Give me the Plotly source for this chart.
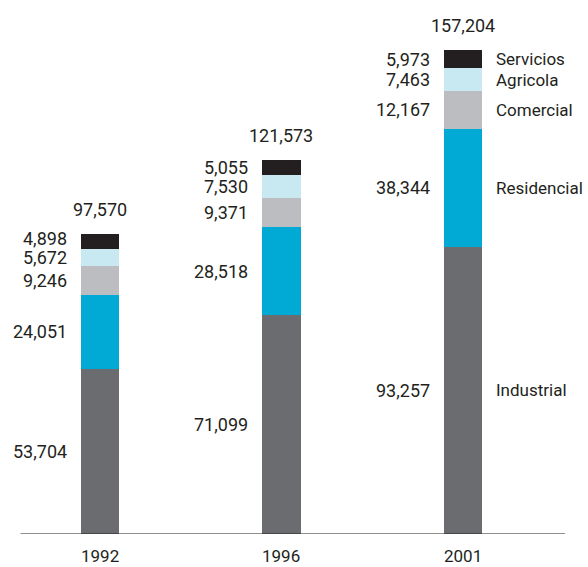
import plotly.graph_objects as go

# Electricity consumption by sector (stacked bottom to top)
years = ["1992", "1996", "2001"]
sectors = ["Industrial", "Residencial", "Comercial", "Agricola", "Servicios"]
industrial = [53704, 71099, 93257]
residencial = [24051, 28518, 38344]
comercial = [9246, 9371, 12167]
agricola = [5672, 7530, 7463]
servicios = [4898, 5055, 5973]
totals = [97570, 121573, 157204]

series = [industrial, residencial, comercial, agricola, servicios]
colors = ["#6b6c70", "#00aad4", "#bcbdc1", "#c8e8f2", "#231f20"]

TEXT = "#231f20"
FONT = "Roboto"
FS = 18

xs = list(range(len(years)))
BAR_W = 0.21
Y_MAX = 173400
PLOT_H = 534                      # plot area height in px
PX_PER_UNIT = PLOT_H / Y_MAX
MIN_GAP = 19 / PX_PER_UNIT        # minimum vertical spacing between labels


def label_positions(values):
    """Segment centres, nudged upward so stacked labels never collide."""
    pos, base = [], 0
    for v in values:
        pos.append(base + v / 2)
        base += v
    for j in range(1, len(pos)):
        if pos[j] - pos[j - 1] < MIN_GAP:
            pos[j] = pos[j - 1] + MIN_GAP
    return pos


fig = go.Figure()
for name, vals, col in zip(sectors, series, colors):
    fig.add_trace(go.Bar(
        x=xs, y=vals, name=name, marker=dict(color=col, line=dict(width=0)),
        width=BAR_W, hoverinfo="skip",
    ))

annotations = []
for i in xs:
    vals_i = [s[i] for s in series]
    # segment value labels to the left of each bar
    for v, y in zip(vals_i, label_positions(vals_i)):
        annotations.append(dict(
            x=i, y=y, xref="x", yref="y", text=f"{v:,}",
            showarrow=False, xanchor="right", yanchor="middle", xshift=-31,
            font=dict(family=FONT, size=FS, color=TEXT),
        ))
    # total above the bar
    annotations.append(dict(
        x=i, y=totals[i], xref="x", yref="y", text=f"{totals[i]:,}",
        showarrow=False, xanchor="center", yanchor="middle", yshift=24,
        font=dict(family=FONT, size=FS, color=TEXT),
    ))
    # year under the axis
    annotations.append(dict(
        x=i, y=0, xref="x", yref="y", text=years[i],
        showarrow=False, xanchor="center", yanchor="middle", yshift=-22,
        borderpad=0,
        font=dict(family=FONT, size=17, color=TEXT),
    ))

# sector names beside the last bar
last = xs[-1]
last_vals = [s[last] for s in series]
for name, y in zip(sectors, label_positions(last_vals)):
    annotations.append(dict(
        x=last, y=y, xref="x", yref="y", text=name,
        showarrow=False, xanchor="left", yanchor="middle", xshift=31,
        font=dict(family=FONT, size=17, color=TEXT),
    ))

# baseline axis with boundary ticks
tick_pos = [i - 0.438 for i in range(len(years) + 1)]
shapes = [dict(type="line", xref="x", yref="y", x0=tick_pos[0], x1=tick_pos[-1],
               y0=0, y1=0, line=dict(color=TEXT, width=1.2))]
for t in tick_pos:
    shapes.append(dict(type="line", xref="x", yref="y", ysizemode="pixel", yanchor=0,
                       x0=t, x1=t, y0=0, y1=-10, line=dict(color=TEXT, width=1.2)))

fig.update_layout(
    barmode="stack",
    width=588, height=567,
    margin=dict(l=0, r=0, t=0, b=567 - PLOT_H),
    paper_bgcolor="white", plot_bgcolor="white",
    showlegend=False,
    annotations=annotations,
    shapes=shapes,
    xaxis=dict(range=[-0.551, 2.689], visible=False, fixedrange=True),
    yaxis=dict(range=[0, Y_MAX], visible=False, fixedrange=True),
)

fig.write_html("out.html", config={"displayModeBar": False})
